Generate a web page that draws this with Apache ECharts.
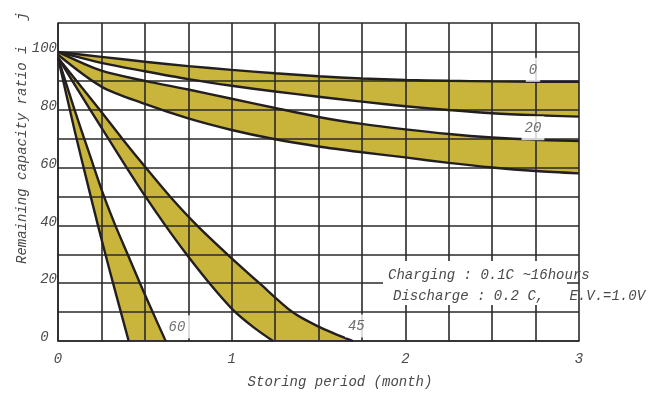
<!DOCTYPE html>
<html><head><meta charset="utf-8">
<script src="https://cdn.jsdelivr.net/npm/echarts@6/dist/echarts.min.js"></script>
<style>html,body{margin:0;padding:0;background:#fff}#c{width:651px;height:393px}</style>
</head><body><div id="c"></div>
<script>
// ---- data ----
const months = [0, 0.25, 0.5, 0.75, 1, 1.25, 1.5, 1.75, 2, 2.25, 2.5, 2.75, 3];
const band0Upper  = [100, 98.3, 96.6, 95.1, 93.8, 92.6, 91.6, 90.8, 90.3, 90.0, 89.8, 89.7, 89.7];
const band0Lower  = [100, 96.2, 93.3, 90.6, 88.3, 86.3, 84.5, 82.8, 81.2, 79.9, 78.8, 78.1, 77.6];
const band20Upper = [100, 93.5, 90.0, 87.0, 83.8, 80.6, 77.5, 75.1, 73.2, 71.6, 70.4, 69.6, 69.2];
const band20Lower = [99, 88.0, 82.0, 77.0, 73.0, 69.8, 67.3, 65.3, 63.5, 61.6, 60.0, 58.8, 58.0];
// steep bands: [month, ratio]
const band45Upper = [[0,98],[0.24,80],[0.37,70],[0.505,60],[0.645,50],[0.8,40],[0.975,30],[1.16,20],[1.35,10],[1.5,5],[1.698,0]];
const band45Lower = [[0,98],[0.185,80],[0.29,70],[0.395,60],[0.503,50],[0.618,40],[0.74,30],[0.872,20],[1.009,10.7],[1.123,4.9],[1.238,0]];
const band60Upper = [[0,98],[0.095,80],[0.185,64],[0.265,50],[0.33,40],[0.401,30],[0.472,20],[0.545,10],[0.62,0]];
const band60Lower = [[0,98],[0.095,73],[0.172,54],[0.23,40],[0.273,30],[0.317,20],[0.362,10],[0.407,0]];
const bandLabels = ['0', '20', '45', '60'];
const labelPos = [[2.735, 93.8], [2.735, 73.6], [1.718, 5.2], [0.691, 4.9]];
const xTickLabels = [0, 1, 2, 3];
const yTickLabels = [0, 20, 40, 60, 80, 100];
const note1 = 'Charging : 0.1C ~16hours';
const note2 = 'Discharge : 0.2 C,   E.V.=1.0V';
const xTitle = 'Storing period (month)';
const yTitle = 'Remaining capacity ratio i   j';

// ---- styles ----
const FONT = "'Liberation Mono', 'DejaVu Sans Mono', monospace";
const FILL = '#c9b53b';
const EDGE = '#231f20';
const GRIDC = '#2a2a2a';
const TXT = '#4a4a4a';

const pairs = (xs, ys) => xs.map((x, i) => [x, ys[i]]);
const bands = [
  { upper: pairs(months, band0Upper), lower: pairs(months, band0Lower) },
  { upper: pairs(months, band20Upper), lower: pairs(months, band20Lower) },
  { upper: band45Upper, lower: band45Lower },
  { upper: band60Upper, lower: band60Lower }
];

const series = [];
series.push({
  type: 'custom',
  z: -1,
  silent: true,
  data: bands.map(() => [1, 50]),
  renderItem: function (params, api) {
    const b = bands[params.dataIndex];
    const pts = b.upper.map(p => api.coord(p))
      .concat(b.lower.slice().reverse().map(p => api.coord(p)));
    return { type: 'polygon', shape: { points: pts }, style: { fill: FILL, stroke: null } };
  }
});
bands.forEach(b => {
  [b.upper, b.lower].forEach(line => {
    series.push({
      type: 'line', data: line, symbol: 'none', smooth: 0.3, silent: true,
      lineStyle: { color: EDGE, width: 2.4 }, z: 3
    });
  });
});
const labelPads = [[8, 3, 2, 3], [8, 3, 2, 3], [6, 3, 3, 3], [6, 5, 3, 3]];
series.push({
  type: 'scatter', symbolSize: 0, silent: true, z: 6,
  data: labelPos.map((p, i) => ({ value: [p[0], p[1]], name: bandLabels[i], label: { padding: labelPads[i] } })),
  label: {
    show: true, position: 'inside', formatter: p => p.name,
    fontFamily: FONT, fontStyle: 'italic', fontSize: 14, color: TXT,
    backgroundColor: '#fff'
  }
});

const chart = echarts.init(document.getElementById('c'), null, { renderer: 'canvas' });
chart.setOption({
  animation: false,
  backgroundColor: '#fff',
  grid: { left: 58, right: 72, top: 23, bottom: 52 },
  xAxis: {
    type: 'value', min: 0, max: 3, interval: 0.25,
    axisLine: { show: true, lineStyle: { color: GRIDC, width: 1.6 } },
    axisTick: { show: false },
    splitLine: { show: true, lineStyle: { color: GRIDC, width: 1.6 } },
    axisLabel: {
      margin: 11, fontFamily: FONT, fontStyle: 'italic', fontSize: 14, color: TXT,
      formatter: v => (xTickLabels.indexOf(v) >= 0 ? String(v) : '')
    }
  },
  yAxis: {
    type: 'value', min: 0, max: 110, interval: 10,
    axisLine: { show: true, lineStyle: { color: GRIDC, width: 1.6 } },
    axisTick: { show: false },
    splitLine: { show: true, lineStyle: { color: GRIDC, width: 1.6 } },
    axisLabel: {
      margin: 1, fontFamily: FONT, fontStyle: 'italic', fontSize: 14, color: TXT,
      verticalAlign: 'bottom', lineHeight: 7,
      formatter: v => {
        if (yTickLabels.indexOf(v) < 0) return '';
        if (v === 100) return '100';
        if (v === 0) return ' 0 ';
        return ' ' + v;
      }
    }
  },
  graphic: [
    { type: 'rect', z: 50, shape: { x: 383, y: 261, width: 184, height: 44 }, style: { fill: '#fff' } },
    { type: 'text', z: 51, x: 388, y: 275, style: { text: note1, font: 'italic 14px ' + FONT, fill: TXT, textVerticalAlign: 'middle' } },
    { type: 'text', z: 51, x: 393, y: 296, style: { text: note2, font: 'italic 14px ' + FONT, fill: TXT, textVerticalAlign: 'middle' } },
    { type: 'text', z: 51, x: 340, y: 382, style: { text: xTitle, font: 'italic 14px ' + FONT, fill: TXT, textAlign: 'center', textVerticalAlign: 'middle' } },
    { type: 'text', z: 51, x: 22, y: 138, rotation: Math.PI / 2, style: { text: yTitle, font: 'italic 14px ' + FONT, fill: TXT, textAlign: 'center', textVerticalAlign: 'middle' } }
  ],
  series: series
});
</script>
</body></html>
